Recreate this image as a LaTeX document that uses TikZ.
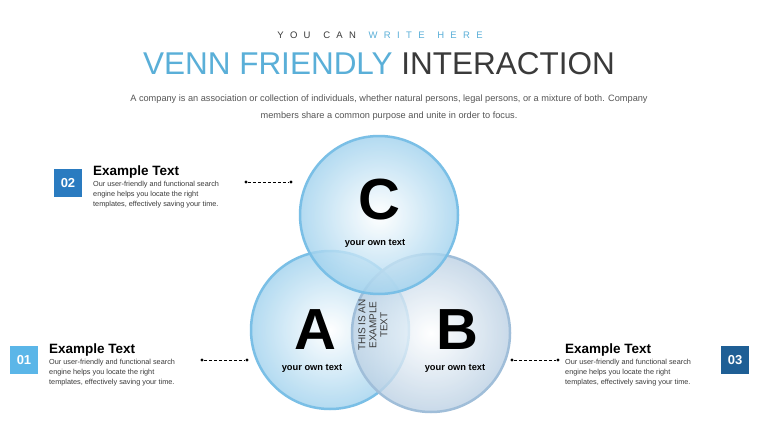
\documentclass[tikz,border=0pt]{standalone}
\usepackage{fontspec}
\setmainfont{Liberation Sans}
\usetikzlibrary{shadings}
\definecolor{lb}{HTML}{5AAFD8}
\definecolor{dk}{HTML}{3A3A3A}
\definecolor{gr}{HTML}{555555}
\definecolor{rimA}{HTML}{62B4E2}
\definecolor{rimB}{HTML}{8FB2D2}
\definecolor{b1}{HTML}{5BB6E8}
\definecolor{b2}{HTML}{2A7BC0}
\definecolor{b3}{HTML}{1F5F95}
\begin{document}
\begin{tikzpicture}[x=1pt,y=-1pt,
  bub/.style={inner color=white,outer color=#1!60,draw=#1!85,line width=2.5pt,fill opacity=0.8},
  big/.style={font=\fontsize{58}{58}\selectfont\bfseries},
  own/.style={font=\fontsize{9.3}{10}\selectfont\bfseries},
  num/.style={minimum width=28pt,minimum height=28pt,text=white,font=\fontsize{13}{13}\selectfont\bfseries},
  htitle/.style={anchor=north west,font=\fontsize{13.5}{13.5}\selectfont\bfseries,inner sep=0},
  hbody/.style={anchor=north west,font=\fontsize{7.3}{9.8}\selectfont,text=dk,align=left,inner sep=0},
  dots/.style={densely dashed,line width=0.8pt},
  dot/.style={circle,fill=black,inner sep=1.2pt}]
\useasboundingbox[fill=white] (0,0) rectangle (760,428);
\node (sub) at (380,35) {\fontsize{9.5}{9.5}\selectfont\color{dk}Y\,\,\,\,O\,\,\,\,U\,\,\,\,\,\,\,\,C\,\,\,\,A\,\,\,\,N\,\,\,\,\,\,\,\,\textcolor{lb}{W\,\,\,\,R\,\,\,\,I\,\,\,\,T\,\,\,\,E\,\,\,\,\,\,\,\,H\,\,\,\,E\,\,\,\,R\,\,\,\,E}};
\node (title) at (379,64) {\fontsize{31.5}{31.5}\selectfont\textcolor{lb}{VENN FRIENDLY} \textcolor{dk}{INTERACTION}};
\node[align=center,text=gr,font=\fontsize{9.2}{17}\selectfont] (para) at (389,108) {A company is an association or collection of individuals, whether natural persons, legal persons, or a mixture of both. Company\\members share a common purpose and unite in order to focus.};
% bubbles
\shade[bub=rimA] (330,330) circle (79);
\shade[bub=rimB] (431,333) circle (79);
\shade[bub=rimA] (379,215) circle (79);
\node[big] (C) at (379,200) {C};
\node[own] (ct) at (375,243) {your own text};
\node[big] (A) at (315,330) {A};
\node[own] (at) at (312,368) {your own text};
\node[big] (B) at (457,330) {B};
\node[own] (bt) at (455,368) {your own text};
\node[rotate=90,align=center,font=\fontsize{10}{11}\selectfont,text=dk] (mid) at (373,325) {THIS IS AN\\EXAMPLE\\TEXT};
% 02
\node[num,fill=b2] (n2) at (68,183) {02};
\node[htitle] (t2) at (93,166) {Example Text};
\node[hbody] (d2) at (93,181) {Our user-friendly and functional search\\engine helps you locate the right\\templates, effectively saving your time.};
\node[dot] (p2a) at (246,182) {}; \node[dot] (p2b) at (291,182) {};
\draw[dots] (p2a) -- (p2b);
% 01
\node[num,fill=b1] (n1) at (24,360) {01};
\node[htitle] (t1) at (49,344) {Example Text};
\node[hbody] (d1) at (49,359) {Our user-friendly and functional search\\engine helps you locate the right\\templates, effectively saving your time.};
\node[dot] (p1a) at (202,360) {}; \node[dot] (p1b) at (247,360) {};
\draw[dots] (p1a) -- (p1b);
% 03
\node[num,fill=b3] (n3) at (735,360) {03};
\node[htitle] (t3) at (565,344) {Example Text};
\node[hbody] (d3) at (565,359) {Our user-friendly and functional search\\engine helps you locate the right\\templates, effectively saving your time.};
\node[dot] (p3a) at (512,360) {}; \node[dot] (p3b) at (558,360) {};
\draw[dots] (p3a) -- (p3b);
\end{tikzpicture}
\end{document}
